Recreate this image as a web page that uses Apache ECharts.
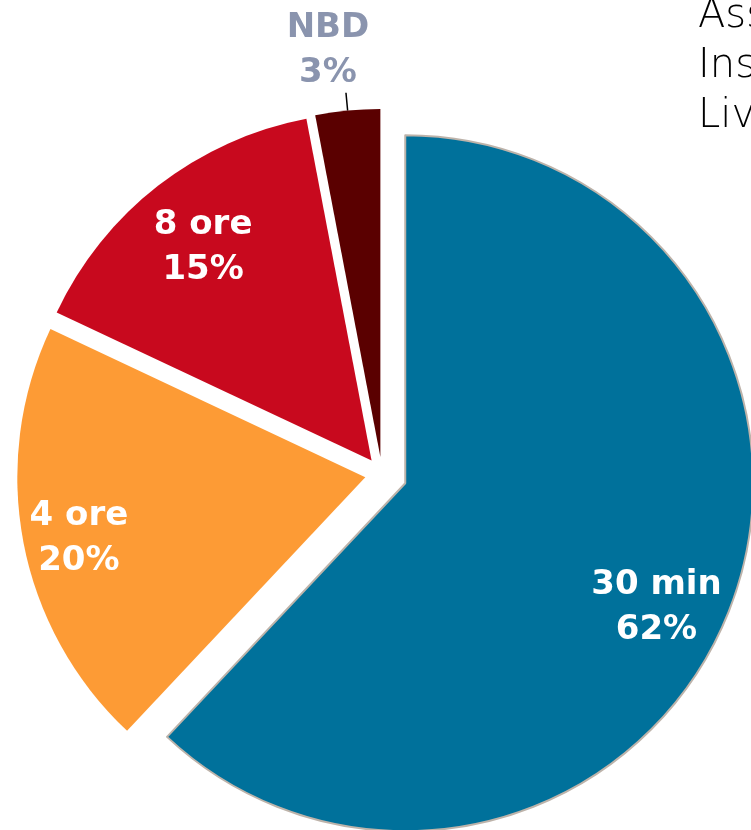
<!DOCTYPE html>
<html>
<head>
<meta charset="utf-8">
<script src="https://cdn.jsdelivr.net/npm/echarts@6/dist/echarts.min.js"></script>
<style>
html,body{margin:0;padding:0;background:#fff;}
#chart{width:751px;height:830px;}
</style>
</head>
<body>
<div id="chart"></div>
<script>
const categories = ['30 min', '4 ore', '8 ore', 'NBD'];
const values = [62, 20, 15, 3];
const colors = ['#00719b', '#fd9b35', '#c8091e', '#5a0000'];
const titleLines = ['Assistenza', 'Installazione', 'Livello'];

const CENTER = [382, 474];
const R = 348;

const chart = echarts.init(document.getElementById('chart'), null, {renderer: 'canvas'});

const blueData = categories.map((c, i) => ({
  name: c, value: values[i], selected: i === 0,
  itemStyle: i === 0 ? {color: colors[i], borderColor: '#bdb3aa', borderWidth: 2} : {color: 'transparent', borderWidth: 0}
}));
const otherData = categories.map((c, i) => ({
  name: c, value: values[i], selected: i !== 0,
  itemStyle: i !== 0 ? {color: colors[i], borderWidth: 0} : {color: 'transparent', borderWidth: 0}
}));
const labelData = categories.map((c, i) => {
  const d = {name: c, value: values[i], selected: true};
  if (i === 3) {
    d.label = {position: 'outside', color: '#8a94ae'};
    d.labelLine = {show: true, length: 18, length2: 0, lineStyle: {color: '#000', width: 1.5}};
  }
  return d;
});

chart.setOption({
  animation: false,
  title: {
    text: titleLines.join('\n'),
    left: 693, top: -13,
    textStyle: {fontFamily: 'DejaVu Sans', fontWeight: 200, fontSize: 40, lineHeight: 50, color: '#000'}
  },
  series: [
    {
      type: 'pie', center: CENTER, radius: R, silent: true,
      selectedMode: 'multiple', selectedOffset: 25,
      label: {show: false}, labelLine: {show: false},
      emphasis: {disabled: true},
      data: blueData
    },
    {
      type: 'pie', center: CENTER, radius: R, silent: true,
      selectedMode: 'multiple', selectedOffset: 17,
      label: {show: false}, labelLine: {show: false},
      emphasis: {disabled: true},
      data: otherData
    },
    {
      type: 'pie', center: CENTER, radius: [R * 0.6, R], silent: true,
      selectedMode: 'multiple', selectedOffset: 17,
      avoidLabelOverlap: false,
      itemStyle: {color: 'transparent', borderWidth: 0},
      emphasis: {disabled: true},
      label: {
        show: true, position: 'inside', formatter: '{b}\n{c}%',
        color: '#fff', fontFamily: 'DejaVu Sans', fontWeight: 'bold',
        fontSize: 34, lineHeight: 45, align: 'center'
      },
      labelLine: {show: false},
      labelLayout: function (p) {
        if (p.dataIndex === 3) {
          return {align: 'center', verticalAlign: 'bottom', dx: -13, dy: 3};
        }
        const nudge = [[-3, 24], [-10, 9], [4, 9]][p.dataIndex];
        return nudge ? {dx: nudge[0], dy: nudge[1]} : {};
      },
      data: labelData
    }
  ]
});
</script>
</body>
</html>
